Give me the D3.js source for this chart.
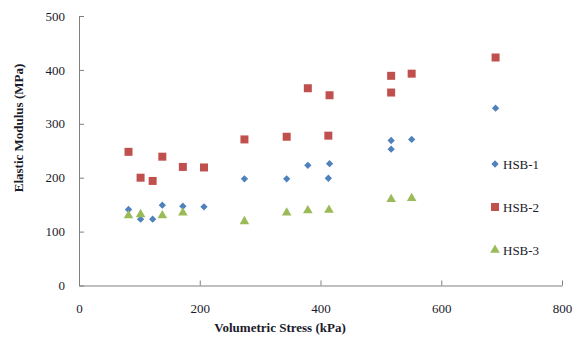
<!DOCTYPE html>
<html>
<head>
<meta charset="utf-8">
<script src="https://cdn.jsdelivr.net/npm/d3@7"></script>
<style>
    body { margin: 0; background: #fff; }
    svg text { font-family: "Liberation Serif", "Times New Roman", serif; fill: #1a1a2a; }
    .axis path, .axis line { stroke: #808080; }
</style>
</head>
<body>
<svg id="chart" width="582" height="342"></svg>
<script>
// HSB-1
var hsb1X = [82, 102, 122, 138, 172, 207, 274, 344, 379, 413, 415, 517, 517, 551, 690];
var hsb1Y = [141, 123, 123, 149, 147, 146, 198, 198, 223, 199, 226, 269, 253, 271, 329];
// HSB-2
var hsb2X = [82, 102, 122, 138, 172, 207, 274, 344, 379, 413, 415, 517, 517, 551, 690];
var hsb2Y = [248, 200, 194, 239, 220, 219, 271, 276, 366, 278, 353, 389, 358, 393, 423];
// HSB-3
var hsb3X = [82, 102, 138, 172, 274, 344, 379, 414, 517, 551];
var hsb3Y = [130, 132, 130, 135, 119, 135, 139, 140, 160, 162];

var seriesNames = ['HSB-1', 'HSB-2', 'HSB-3'];
var xTicks = [0, 200, 400, 600, 800];
var yTicks = [0, 100, 200, 300, 400, 500];

d3.select(window).on('load', init);

function init() {
    var svg = d3.select('#chart');

    var xScale = d3.scaleLinear()
        .domain([0, 800])
        .range([79, 562]);

    var yScale = d3.scaleLinear()
        .domain([0, 500])
        .range([285.5, 16]);

    var xAxis = d3.axisBottom(xScale)
        .tickValues(xTicks)
        .tickSizeInner(-5)
        .tickSizeOuter(0)
        .tickPadding(18);

    var yAxis = d3.axisLeft(yScale)
        .tickValues(yTicks)
        .tickSizeInner(-5)
        .tickSizeOuter(0)
        .tickPadding(14);

    svg.append('g')
        .attr('class', 'axis x')
        .attr('transform', 'translate(0,' + yScale(0) + ')')
        .call(xAxis);

    svg.append('g')
        .attr('class', 'axis y')
        .attr('transform', 'translate(' + xScale(0) + ',0)')
        .call(yAxis);

    svg.selectAll('.axis text')
        .style('font-size', '13px')
        .style('font-family', '"Liberation Serif", serif')
        .attr('fill', '#1a1a2a');

    // markers
    var series = [
        {name: seriesNames[0], xs: hsb1X, ys: hsb1Y, sym: d3.symbolDiamond2, size: 34, color: '#4F81BD'},
        {name: seriesNames[1], xs: hsb2X, ys: hsb2Y, sym: d3.symbolSquare, size: 64, color: '#C0504D'},
        {name: seriesNames[2], xs: hsb3X, ys: hsb3Y, sym: d3.symbolTriangle, size: 40, color: '#9BBB59'}
    ];

    series.forEach(function(s){
        var pts = s.xs.map(function(x, i){ return [x, s.ys[i]]; });
        svg.append('g')
            .selectAll('path')
            .data(pts)
            .enter()
            .append('path')
            .attr('d', d3.symbol().type(s.sym).size(s.size))
            .attr('transform', function(d){
                return 'translate(' + xScale(d[0]) + ',' + yScale(d[1]) + ')';
            })
            .attr('fill', s.color);
    });

    // legend
    var legend = svg.append('g')
        .selectAll('g')
        .data(series)
        .enter()
        .append('g')
        .attr('transform', function(d, i){
            return 'translate(495,' + (164 + i * 43) + ')';
        });

    legend.append('path')
        .attr('d', function(d){ return d3.symbol().type(d.sym).size(d.size)(); })
        .attr('fill', function(d){ return d.color; });

    legend.append('text')
        .attr('x', 8)
        .attr('dy', '0.35em')
        .style('font-size', '13px')
        .text(function(d){ return d.name; });

    // axis titles
    svg.append('text')
        .attr('x', 280)
        .attr('y', 332)
        .attr('text-anchor', 'middle')
        .style('font-size', '13px')
        .style('font-weight', 'bold')
        .text('Volumetric Stress (kPa)');

    svg.append('text')
        .attr('transform', 'translate(23,128) rotate(-90)')
        .attr('text-anchor', 'middle')
        .style('font-size', '13px')
        .style('font-weight', 'bold')
        .text('Elastic Modulus (MPa)');
}
</script>
</body>
</html>
